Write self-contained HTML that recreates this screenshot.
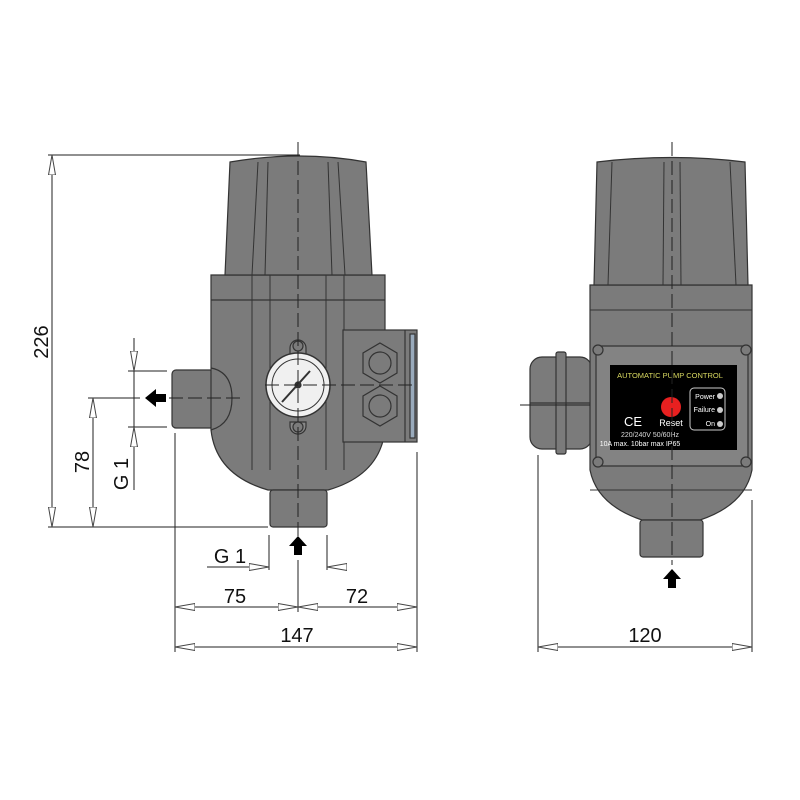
<!DOCTYPE html>
<html><head><meta charset="utf-8"><style>
html,body{margin:0;padding:0;background:#fff;}
svg{display:block}
text{font-family:"Liberation Sans",Arial,sans-serif;fill:#111}
</style></head><body>
<svg width="800" height="800" viewBox="0 0 800 800" xmlns="http://www.w3.org/2000/svg">
<defs>
<marker id="a" viewBox="0 0 20 8" refX="20" refY="4" markerWidth="20" markerHeight="8" markerUnits="userSpaceOnUse" orient="auto-start-reverse">
<path d="M0,0.5 L20,4 L0,7.5 Z" fill="#fff" stroke="#444" stroke-width="1"/>
</marker>
</defs>
<g stroke="#333" stroke-width="1.2" fill="#7b7b7b">
<rect x="172" y="370" width="42" height="58" rx="4"/>
<path d="M211,275 L385,275 L385,430 Q380,475 328,490 L268,490 Q216,475 211,430 Z"/>
<line x1="211" y1="300" x2="385" y2="300"/>
<path d="M211,368 Q232,372 232,398 Q232,424 211,430" fill="none"/>
<path d="M230,162 Q300,150 366,162 L372,275 L225,275 Z"/>
<g fill="none" stroke-width="1">
<line x1="258" y1="162" x2="252" y2="275"/><line x1="268" y1="162" x2="265" y2="275"/>
<line x1="328" y1="162" x2="332" y2="275"/><line x1="338" y1="162" x2="345" y2="275"/>
<line x1="252" y1="275" x2="252" y2="470"/><line x1="270" y1="275" x2="270" y2="470"/>
<line x1="326" y1="275" x2="326" y2="470"/><line x1="344" y1="275" x2="344" y2="470"/>
</g>
<rect x="270" y="490" width="57" height="37" rx="3"/>
<rect x="343" y="330" width="74" height="112"/>
<line x1="405" y1="330" x2="405" y2="442"/>
<rect x="410" y="334" width="5" height="104" fill="#9ab"/>
<polygon points="380,343 397,353 397,373 380,383 363,373 363,353"/>
<circle cx="380" cy="363" r="11"/>
<polygon points="380,386 397,396 397,416 380,426 363,416 363,396"/>
<circle cx="380" cy="406" r="11"/>
<path d="M290,348 A8,8 0 0 1 306,348 L306,356 L290,356Z" fill="#888"/>
<path d="M290,422 L306,422 L306,426 A8,8 0 0 1 290,426Z" fill="#888"/>
<circle cx="298" cy="346" r="5"/><circle cx="298" cy="427" r="5"/>
<circle cx="298" cy="385" r="32" fill="#f0f0f0" stroke-width="1.5"/>
<circle cx="298" cy="385" r="26" fill="none" stroke-width="1"/>
<line x1="282" y1="402" x2="310" y2="371" stroke-width="2"/>
<circle cx="298" cy="385" r="3" fill="#333"/>
<!-- RIGHT DEVICE -->
<rect x="530" y="357" width="62" height="92" rx="12"/>
<rect x="556" y="352" width="10" height="102" rx="2"/>
<line x1="530" y1="403" x2="592" y2="403"/>
<path d="M590,285 L752,285 L752,470 Q745,505 700,520 L642,520 Q597,505 590,470 Z"/>
<path d="M597,162 Q672,153 745,162 L748,285 L594,285 Z"/>
<g fill="none" stroke-width="1">
<line x1="612" y1="162" x2="608" y2="285"/><line x1="730" y1="162" x2="736" y2="285"/>
<line x1="664" y1="162" x2="663" y2="285"/><line x1="680" y1="162" x2="681" y2="285"/>
<line x1="590" y1="310" x2="752" y2="310"/>
<line x1="590" y1="490" x2="752" y2="490"/>
</g>
<rect x="596" y="346" width="152" height="120" rx="6" fill="#838383"/>
<circle cx="598" cy="350" r="5"/><circle cx="746" cy="350" r="5"/>
<circle cx="598" cy="462" r="5"/><circle cx="746" cy="462" r="5"/>
<rect x="640" y="520" width="63" height="37" rx="3"/>
</g>
<rect x="610" y="365" width="127" height="85" fill="#000"/>
<text x="670" y="378" font-size="7.5" text-anchor="middle" style="fill:#d8d860">AUTOMATIC PUMP CONTROL</text>
<circle cx="671" cy="407" r="10" fill="#e82020"/>
<text x="671" y="426" font-size="9" text-anchor="middle" style="fill:#fff">Reset</text>
<text x="624" y="426" font-size="13" style="fill:#fff">CE</text>
<text x="650" y="437" font-size="7" text-anchor="middle" style="fill:#ddd">220/240V 50/60Hz</text>
<text x="640" y="446" font-size="7" text-anchor="middle" style="fill:#fff">10A max. 10bar max IP65</text>
<rect x="690" y="388" width="35" height="42" rx="4" fill="none" stroke="#ccc"/>
<g font-size="7" text-anchor="end">
<text x="715" y="399" style="fill:#fff">Power</text><text x="715" y="412" style="fill:#fff">Failure</text><text x="715" y="426" style="fill:#fff">On</text>
</g>
<circle cx="720" cy="396" r="3" fill="#ccc"/><circle cx="720" cy="410" r="3" fill="#ccc"/><circle cx="720" cy="424" r="3" fill="#ccc"/>

<g stroke="#222" stroke-width="1" fill="none">
<line x1="298" y1="142" x2="298" y2="560" stroke-dasharray="14,5"/>
<line x1="672" y1="142" x2="672" y2="565" stroke-dasharray="14,5"/>
<line x1="150" y1="398" x2="240" y2="398" stroke-dasharray="14,5"/>
<line x1="265" y1="385" x2="415" y2="385" stroke-dasharray="14,5"/>
<line x1="520" y1="405" x2="590" y2="405"/>
<line x1="48" y1="155" x2="300" y2="155"/>
<line x1="48" y1="527" x2="268" y2="527"/>
<line x1="88" y1="398" x2="140" y2="398"/>
<line x1="128" y1="371" x2="167" y2="371"/>
<line x1="128" y1="427" x2="167" y2="427"/>
<line x1="175" y1="433" x2="175" y2="652"/>
<line x1="417" y1="452" x2="417" y2="652"/>
<line x1="298" y1="560" x2="298" y2="612"/>
<line x1="269" y1="535" x2="269" y2="570"/>
<line x1="327" y1="535" x2="327" y2="570"/>
<line x1="538" y1="455" x2="538" y2="652"/>
<line x1="752" y1="500" x2="752" y2="652"/>
<line x1="52" y1="155" x2="52" y2="527" marker-start="url(#a)" marker-end="url(#a)"/>
<line x1="93" y1="398" x2="93" y2="527" marker-start="url(#a)" marker-end="url(#a)"/>
<line x1="134" y1="338" x2="134" y2="371" marker-end="url(#a)"/>
<line x1="134" y1="490" x2="134" y2="427" marker-end="url(#a)"/>
<line x1="134" y1="371" x2="134" y2="427"/>
<line x1="207" y1="567" x2="269" y2="567" marker-end="url(#a)"/>
<line x1="346" y1="567" x2="327" y2="567" marker-end="url(#a)"/>
<line x1="175" y1="607" x2="298" y2="607" marker-start="url(#a)" marker-end="url(#a)"/>
<line x1="298" y1="607" x2="417" y2="607" marker-start="url(#a)" marker-end="url(#a)"/>
<line x1="175" y1="647" x2="417" y2="647" marker-start="url(#a)" marker-end="url(#a)"/>
<line x1="538" y1="647" x2="752" y2="647" marker-start="url(#a)" marker-end="url(#a)"/>
</g>
<path d="M145,398 L156,389 L156,394 L166,394 L166,402 L156,402 L156,407 Z" fill="#000"/>
<path d="M298,536 L289,546 L294,546 L294,555 L302,555 L302,546 L307,546 Z" fill="#000"/>
<path d="M672,569 L663,579 L668,579 L668,588 L676,588 L676,579 L681,579 Z" fill="#000"/>
<g font-size="20">
<text transform="translate(48,342) rotate(-90)" text-anchor="middle">226</text>
<text transform="translate(89,462) rotate(-90)" text-anchor="middle">78</text>
<text transform="translate(128,474) rotate(-90)" text-anchor="middle">G 1</text>
<text x="230" y="563" text-anchor="middle">G 1</text>
<text x="235" y="603" text-anchor="middle">75</text>
<text x="357" y="603" text-anchor="middle">72</text>
<text x="297" y="642" text-anchor="middle">147</text>
<text x="645" y="642" text-anchor="middle">120</text>
</g>
</svg>
</body></html>
